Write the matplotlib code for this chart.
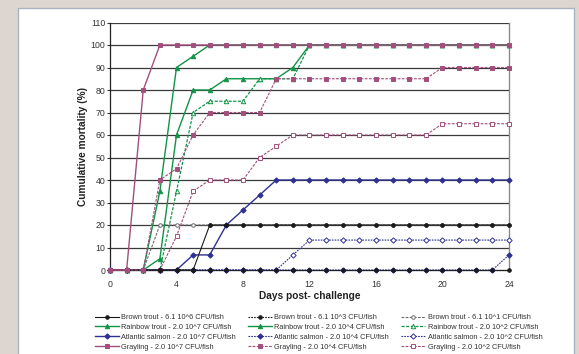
import matplotlib
matplotlib.use("Agg")
import matplotlib.pyplot as plt
from matplotlib.patches import Rectangle

plt.rcParams['font.family'] = ['Liberation Sans', 'DejaVu Sans']

days = list(range(0, 25))

brown_6 = [0, 0, 0, 0, 0, 0] + [20] * 19
brown_3 = [0] * 25
brown_1 = [0, 0, 0] + [20] * 22

rainbow_7 = [0, 0, 0, 35, 90, 95] + [100] * 19
rainbow_4 = [0, 0, 0, 5, 60, 80, 80, 85, 85, 85, 85, 90] + [100] * 13
rainbow_2 = [0, 0, 0, 0, 35, 70, 75, 75, 75, 85, 85, 85] + [100] * 13

salmon_7 = [0, 0, 0, 0, 0, 6.7, 6.7, 20, 26.7, 33.3] + [40] * 15
salmon_4 = [0] * 24 + [6.7]
salmon_2 = [0] * 11 + [6.7] + [13.3] * 13

grayling_7 = [0, 0, 80] + [100] * 22
grayling_4 = [0, 0, 0, 40, 45, 60, 70, 70, 70, 70] + [85] * 10 + [90] * 5
grayling_2 = [0, 0, 0, 0, 15, 35, 40, 40, 40, 50, 55] + [60] * 9 + [65] * 5

labels = {
    'brown_6': 'Brown trout - 6.1 10^6 CFU/fish',
    'brown_3': 'Brown trout - 6.1 10^3 CFU/fish',
    'brown_1': 'Brown trout - 6.1 10^1 CFU/fish',
    'rainbow_7': 'Rainbow trout - 2.0 10^7 CFU/fish',
    'rainbow_4': 'Rainbow trout - 2.0 10^4 CFU/fish',
    'rainbow_2': 'Rainbow trout - 2.0 10^2 CFU/fish',
    'salmon_7': 'Atlantic salmon - 2.0 10^7 CFU/fish',
    'salmon_4': 'Atlantic salmon - 2.0 10^4 CFU/fish',
    'salmon_2': 'Atlantic salmon - 2.0 10^2 CFU/fish',
    'grayling_7': 'Grayling - 2.0 10^7 CFU/fish',
    'grayling_4': 'Grayling - 2.0 10^4 CFU/fish',
    'grayling_2': 'Grayling - 2.0 10^2 CFU/fish',
}

BLACK = '#1a1a1a'
GREY = '#6e6e6e'
GREEN = '#119447'
BLUE = '#2e3192'
PINK = '#a34f7c'

fig = plt.figure(figsize=(5.79, 3.54), dpi=100)
fig.patch.set_facecolor('#ddd6d0')
panel = Rectangle((18 / 579, -0.05), (574 - 18) / 579, 1.05 - 8 / 354,
                  transform=fig.transFigure, facecolor='white',
                  edgecolor='#a9b3c2', linewidth=1.0, zorder=-10)
fig.patches.append(panel)

ax = fig.add_axes([110 / 579, 1 - 270 / 354, (509 - 110) / 579, (270 - 22.5) / 354])
ax.set_zorder(1)
ax.set_facecolor('none')

ms = 3.2
series = [
    # data, key, color, linestyle, marker, filled, lw, zorder
    (brown_1, 'brown_1', GREY, (0, (2.5, 1.2)), 'o', False, 0.8, 3),
    (brown_6, 'brown_6', BLACK, '-', 'o', True, 0.8, 3.5),
    (rainbow_7, 'rainbow_7', GREEN, '-', '^', True, 1.0, 3),
    (rainbow_4, 'rainbow_4', GREEN, '-', '^', True, 1.0, 3),
    (rainbow_2, 'rainbow_2', GREEN, (0, (2.5, 1.2)), '^', False, 0.9, 3),
    (salmon_2, 'salmon_2', BLUE, (0, (1.5, 1)), 'D', False, 0.8, 3),
    (salmon_4, 'salmon_4', BLUE, (0, (1.5, 1)), 'D', True, 0.8, 3),
    (salmon_7, 'salmon_7', BLUE, '-', 'D', True, 1.0, 3),
    (grayling_2, 'grayling_2', PINK, (0, (2.5, 1.2)), 's', False, 0.8, 3),
    (brown_3, 'brown_3', BLACK, (0, (1.5, 1)), 'o', True, 0.8, 4),
    (grayling_4, 'grayling_4', PINK, (0, (2.5, 1.2)), 's', True, 0.8, 5),
    (grayling_7, 'grayling_7', PINK, '-', 's', True, 1.0, 5),
]

handles = {}
for data, key, color, ls, mk, filled, lw, z in series:
    msize = ms
    if mk == 'D':
        msize = ms * 0.85
    if mk == 'o':
        msize = ms * 0.8
    h, = ax.plot(days, data, color=color, linestyle=ls, linewidth=lw,
                 marker=mk, markersize=msize,
                 markerfacecolor=color if filled else 'white',
                 markeredgecolor=color, markeredgewidth=0.7,
                 label=labels[key], clip_on=False, zorder=z)
    handles[key] = h

ax.set_xlim(0, 24)
ax.set_ylim(0, 110)
ax.set_xticks(range(0, 25, 4))
ax.set_yticks(range(0, 111, 10))
ax.tick_params(axis='x', labelsize=6.3, length=0, pad=7, colors='#333333')
ax.tick_params(axis='y', labelsize=6.3, length=2, pad=1.5, colors='#333333')
for y in range(10, 111, 10):
    ax.axhline(y, color='#3a3a3a', linewidth=0.9, zorder=1)
ax.spines['top'].set_visible(False)
ax.spines['right'].set_color('#8a8a8a')
ax.spines['right'].set_linewidth(1.0)
ax.spines['left'].set_color('#222222')
ax.spines['bottom'].set_color('#222222')
ax.spines['left'].set_linewidth(0.9)
ax.spines['bottom'].set_linewidth(0.9)

ax.set_xlabel('Days post- challenge', fontsize=7.3, fontweight='bold', labelpad=1.5, color='#222222')
ax.set_ylabel('Cumulative mortality (%)', fontsize=7.3, fontweight='bold', labelpad=2, color='#222222')

order = ['brown_6', 'rainbow_7', 'salmon_7', 'grayling_7',
         'brown_3', 'rainbow_4', 'salmon_4', 'grayling_4',
         'brown_1', 'rainbow_2', 'salmon_2', 'grayling_2']
leg = fig.legend([handles[k] for k in order], [labels[k] for k in order],
                 ncol=3, loc='upper left', bbox_to_anchor=(92 / 579, 1 - 311 / 354),
                 fontsize=5.3, frameon=False, handlelength=3.2, handletextpad=0.4,
                 columnspacing=1.6, labelspacing=0.38, borderaxespad=0)
for t in leg.get_texts():
    t.set_color('#333333')

fig.savefig('out.png', dpi=100, facecolor=fig.get_facecolor())
